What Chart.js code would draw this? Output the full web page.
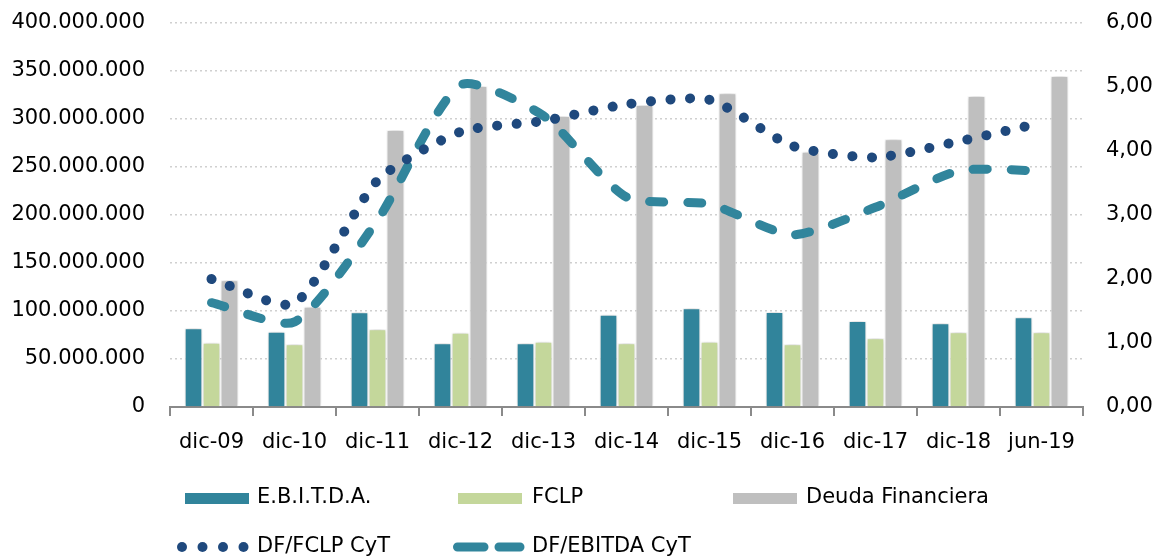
<!DOCTYPE html>
<html>
<head>
<meta charset="utf-8">
<script src="https://cdn.jsdelivr.net/npm/chart.js@4.4.1/dist/chart.umd.min.js"></script>
<style>
  html, body { margin: 0; padding: 0; background: #fff; }
  #wrap { width: 1161px; height: 560px; position: relative; }
</style>
</head>
<body>
<div id="wrap"><canvas id="c" width="1161" height="560"></canvas></div>
<script>
const categories = ['dic-09','dic-10','dic-11','dic-12','dic-13','dic-14','dic-15','dic-16','dic-17','dic-18','jun-19'];
const ebitda = [82000000, 78500000, 98600000, 66300000, 66300000, 96000000, 102800000, 99000000, 89600000, 87200000, 93400000];
const fclp = [67000000, 65300000, 81000000, 77400000, 68000000, 66300000, 68000000, 65300000, 71500000, 77800000, 77800000];
const deudaFinanciera = [132000000, 104500000, 288500000, 334400000, 303000000, 314600000, 326700000, 266000000, 278800000, 324000000, 344800000];
const dfFclp = [2.00, 1.62, 3.54, 4.30, 4.47, 4.73, 4.80, 4.08, 3.90, 4.15, 4.44];
const dfEbitda = [1.63, 1.33, 2.92, 5.03, 4.55, 3.28, 3.17, 2.69, 3.12, 3.69, 3.69];
const leftTicks = { min: 0, max: 400000000, step: 50000000 };
const rightTicks = { min: 0, max: 6, step: 1 };

const C_EBITDA = '#31849B', C_FCLP = '#C4D79B', C_DF = '#BFBFBF', C_L1 = '#1F497D', C_L2 = '#31859C';
const FONT_FAMILY = "'DejaVu Sans', sans-serif";
const AXIS_FONT = { family: FONT_FAMILY, size: 21 };

function fmtThousands(v) {
  return String(Math.round(v)).replace(/\B(?=(\d{3})+(?!\d))/g, '.');
}

const barShadow = {
  id: 'barShadow',
  beforeDatasetDraw(chart, args) {
    if (args.meta.type === 'bar') {
      const ctx = chart.ctx;
      ctx.save();
      ctx.shadowColor = 'rgba(0,0,0,0.28)';
      ctx.shadowBlur = 5;
      ctx.shadowOffsetX = 0;
      ctx.shadowOffsetY = 0;
    }
  },
  afterDatasetDraw(chart, args) {
    if (args.meta.type === 'bar') chart.ctx.restore();
  }
};

const customLegend = {
  id: 'customLegend',
  afterDraw(chart) {
    const ctx = chart.ctx;
    const ds = chart.data.datasets;
    ctx.save();
    ctx.textBaseline = 'middle';
    ctx.font = "21px " + FONT_FAMILY;
    const items = [
      { d: ds[0], x: 185, y: 498, tx: 257, kind: 'box' },
      { d: ds[1], x: 458, y: 498, tx: 532, kind: 'box' },
      { d: ds[2], x: 733, y: 498, tx: 806, kind: 'box' },
      { d: ds[3], x: 177, y: 547, tx: 257, kind: 'dots' },
      { d: ds[4], x: 453, y: 547, tx: 532, kind: 'dash' }
    ];
    items.forEach(it => {
      if (it.kind === 'box') {
        ctx.fillStyle = it.d.backgroundColor;
        ctx.fillRect(it.x, it.y - 5, 64, 11);
      } else if (it.kind === 'dots') {
        ctx.fillStyle = it.d.borderColor;
        for (let i = 0; i < 4; i++) {
          ctx.beginPath();
          ctx.arc(it.x + 5 + i * 20.5, it.y, 5, 0, Math.PI * 2);
          ctx.fill();
        }
      } else {
        ctx.strokeStyle = it.d.borderColor;
        ctx.lineWidth = 9;
        ctx.lineCap = 'round';
        ctx.beginPath();
        ctx.moveTo(it.x + 4.5, it.y); ctx.lineTo(it.x + 31, it.y);
        ctx.moveTo(it.x + 46, it.y); ctx.lineTo(it.x + 67, it.y);
        ctx.stroke();
      }
      ctx.fillStyle = '#000';
      ctx.fillText(it.d.label, it.tx, it.y);
    });
    ctx.restore();
  }
};

new Chart(document.getElementById('c'), {
  type: 'bar',
  data: {
    labels: categories,
    datasets: [
      { label: 'E.B.I.T.D.A.', data: ebitda, backgroundColor: C_EBITDA, borderColor: '#fff', borderWidth: 1, yAxisID: 'y', order: 1, categoryPercentage: 0.65, barPercentage: 0.98 },
      { label: 'FCLP', data: fclp, backgroundColor: C_FCLP, borderColor: '#fff', borderWidth: 1, yAxisID: 'y', order: 1, categoryPercentage: 0.65, barPercentage: 0.98 },
      { label: 'Deuda Financiera', data: deudaFinanciera, backgroundColor: C_DF, borderColor: '#fff', borderWidth: 1, yAxisID: 'y', order: 1, categoryPercentage: 0.65, barPercentage: 0.98 },
      { type: 'line', label: 'DF/FCLP CyT', data: dfFclp, borderColor: C_L1, backgroundColor: C_L1, borderWidth: 10, borderDash: [0.1, 19.4], borderCapStyle: 'round', pointRadius: 0, tension: 0.22, fill: false, yAxisID: 'y1', order: 0 },
      { type: 'line', label: 'DF/EBITDA CyT', data: dfEbitda, borderColor: C_L2, backgroundColor: C_L2, borderWidth: 9, borderDash: [14, 24], borderCapStyle: 'round', pointRadius: 0, tension: 0.22, fill: false, yAxisID: 'y1', order: 0 }
    ]
  },
  options: {
    responsive: false,
    animation: false,
    devicePixelRatio: 1,
    layout: { padding: { top: 23, left: 0, right: 0, bottom: 0 } },
    plugins: { legend: { display: false }, tooltip: { enabled: false } },
    scales: {
      x: {
        offset: true,
        grid: { display: true, drawOnChartArea: false, offset: true, tickLength: 9, color: '#8a8a8a', lineWidth: 2 },
        border: { display: true, color: '#8a8a8a', width: 2 },
        ticks: { color: '#000', font: AXIS_FONT, padding: 14, maxRotation: 0, autoSkip: false },
        afterFit(s) { s.height = 153; s.paddingLeft = 0; s.paddingRight = 0; }
      },
      y: {
        position: 'left',
        min: leftTicks.min, max: leftTicks.max,
        grid: { color: '#d0d0d0', lineWidth: 1.5, drawTicks: false },
        border: { display: false, dash: [2, 3] },
        ticks: { stepSize: leftTicks.step, color: '#000', font: AXIS_FONT, padding: 25, callback: v => fmtThousands(v) },
        afterFit(s) { s.width = 170; s.paddingTop = 0; s.paddingBottom = 0; }
      },
      y1: {
        position: 'right',
        min: rightTicks.min, max: rightTicks.max,
        grid: { drawOnChartArea: false, drawTicks: false },
        border: { display: false },
        ticks: { stepSize: rightTicks.step, color: '#000', font: AXIS_FONT, padding: 23, callback: v => v.toFixed(2).replace('.', ',') },
        afterFit(s) { s.width = 78; s.paddingTop = 0; s.paddingBottom = 0; }
      }
    }
  },
  plugins: [barShadow, customLegend]
});
</script>
</body>
</html>
